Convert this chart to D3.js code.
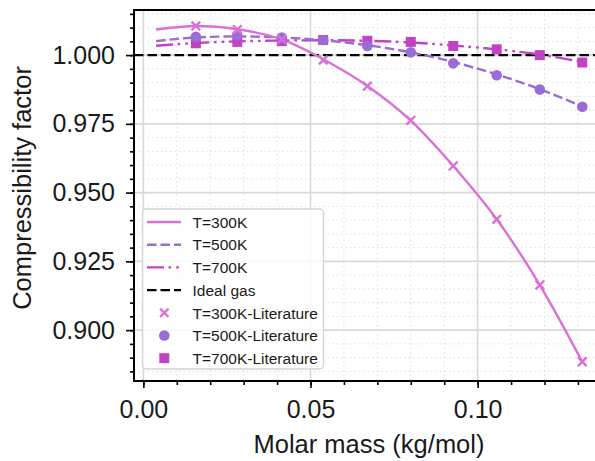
<!DOCTYPE html>
<html>
<head>
<meta charset="utf-8">
<script src="https://cdn.jsdelivr.net/npm/d3@7"></script>
<style>
  body { margin: 0; background: #fff; }
  svg { font-family: "Liberation Sans", Arial, sans-serif; }
</style>
</head>
<body>
<svg id="chart" width="595" height="461"></svg>
<script>
// molar masses of the literature points (kg/mol)
const molarMass = [0.0157, 0.0281, 0.0414, 0.0538, 0.0670, 0.0800, 0.0927, 0.1057, 0.1186, 0.1313];

// fitted curves (start point + values at the molar masses above)
const fitX = [0.0038, 0.0157, 0.0281, 0.0414, 0.0538, 0.0670, 0.0800, 0.0927, 0.1057, 0.1186, 0.1313];
const fit300 = [1.0093, 1.0106, 1.0094, 1.0057, 0.9985, 0.9888, 0.9762, 0.9597, 0.9403, 0.9164, 0.8885];
const fit500 = [1.0051, 1.0064, 1.0068, 1.0064, 1.0054, 1.0036, 1.0010, 0.9975, 0.9930, 0.9876, 0.9813];
const fit700 = [1.0034, 1.0044, 1.0050, 1.0053, 1.0054, 1.0052, 1.0046, 1.0035, 1.0021, 1.0002, 0.9975];

// literature values
const lit300 = [1.0106, 1.0093, 1.0057, 0.9982, 0.9887, 0.9763, 0.9597, 0.9403, 0.9164, 0.8885];
const lit500 = [1.0067, 1.0073, 1.0064, 1.0055, 1.0033, 1.0010, 0.9970, 0.9927, 0.9875, 0.9812];
const lit700 = [1.0043, 1.0048, 1.0051, 1.0055, 1.0052, 1.0048, 1.0033, 1.0021, 1.0000, 0.9973];

const xTicks = [0.00, 0.05, 0.10];
const yTicks = [0.900, 0.925, 0.950, 0.975, 1.000];
const idealZ = 1.0;

const c300 = "#da70d6", c500 = "#9a6cd6", c700 = "#c043c4";
const dash500 = "9.5,4", dash700 = "17,4.5,2.7,5,2.7,4.5", dashIdeal = "9.5,4";
const lw = 2.4;

const svg = d3.select("#chart");
const pLeft = 134, pRight = 597, pTop = 10, pBottom = 381;

const x = d3.scaleLinear().domain([-0.0028, 0.1357]).range([pLeft, pRight]);
const y = d3.scaleLinear().domain([0.8815, 1.0164]).range([pBottom, pTop]);

const xMinorTicks = d3.range(0, 14).map(i => i / 100);
const yMinorTicks = d3.range(0, 27).map(i => 0.885 + i * 0.005);

// grid
const grid = svg.append("g");
grid.selectAll(".xmin").data(xMinorTicks).enter().append("line")
  .attr("x1", d => x(d)).attr("x2", d => x(d)).attr("y1", pTop).attr("y2", pBottom)
  .attr("stroke", "#dedede").attr("stroke-width", 1).attr("stroke-dasharray", "1.5,3");
grid.selectAll(".ymin").data(yMinorTicks).enter().append("line")
  .attr("y1", d => y(d)).attr("y2", d => y(d)).attr("x1", pLeft).attr("x2", pRight)
  .attr("stroke", "#dedede").attr("stroke-width", 1).attr("stroke-dasharray", "1.5,3");
grid.selectAll(".xmaj").data(xTicks).enter().append("line")
  .attr("x1", d => x(d)).attr("x2", d => x(d)).attr("y1", pTop).attr("y2", pBottom)
  .attr("stroke", "#d9d9d9").attr("stroke-width", 1.6);
grid.selectAll(".ymaj").data(yTicks).enter().append("line")
  .attr("y1", d => y(d)).attr("y2", d => y(d)).attr("x1", pLeft).attr("x2", pRight)
  .attr("stroke", "#d9d9d9").attr("stroke-width", 1.6);

// axes
const xAxis = svg.append("g").attr("transform", `translate(0,${pBottom})`)
  .call(d3.axisBottom(x).tickValues(xTicks).tickFormat(d3.format(".2f")).tickSize(7).tickPadding(12.5));
const xMinor = svg.append("g").attr("transform", `translate(0,${pBottom})`)
  .call(d3.axisBottom(x).tickValues(xMinorTicks).tickFormat("").tickSize(4));
const yAxis = svg.append("g").attr("transform", `translate(${pLeft},0)`)
  .call(d3.axisLeft(y).tickValues(yTicks).tickFormat(d3.format(".3f")).tickSize(8).tickPadding(11));
const yMinor = svg.append("g").attr("transform", `translate(${pLeft},0)`)
  .call(d3.axisLeft(y).tickValues(yMinorTicks).tickFormat("").tickSize(4));
[xAxis, xMinor, yAxis, yMinor].forEach(g => {
  g.select(".domain").remove();
  g.selectAll("line").attr("stroke", "#000").attr("stroke-width", 1.6);
  g.selectAll("text").attr("font-size", 25).attr("fill", "#1a1a1a").attr("font-family", "Liberation Sans, Arial, sans-serif");
});

// ideal gas
svg.append("line").attr("x1", pLeft).attr("x2", pRight).attr("y1", y(idealZ)).attr("y2", y(idealZ))
  .attr("stroke", "#000").attr("stroke-width", lw).attr("stroke-dasharray", dashIdeal);

// fitted curves
const line = vals => d3.line().x((d, i) => x(fitX[i])).y(d => y(d)).curve(d3.curveMonotoneX)(vals);
svg.append("path").attr("d", line(fit700)).attr("fill", "none").attr("stroke", c700)
  .attr("stroke-width", lw).attr("stroke-dasharray", dash700);
svg.append("path").attr("d", line(fit500)).attr("fill", "none").attr("stroke", c500)
  .attr("stroke-width", lw).attr("stroke-dasharray", dash500);
svg.append("path").attr("d", line(fit300)).attr("fill", "none").attr("stroke", c300)
  .attr("stroke-width", lw);

// literature markers
const cross = (g, cx, cy, s, col) => {
  g.append("path").attr("d", `M${cx - s},${cy - s}L${cx + s},${cy + s}M${cx - s},${cy + s}L${cx + s},${cy - s}`)
    .attr("stroke", col).attr("stroke-width", 2.4).attr("fill", "none");
};
const marks = svg.append("g");
marks.selectAll(".sq").data(lit700).enter().append("rect")
  .attr("x", (d, i) => x(molarMass[i]) - 5).attr("y", d => y(d) - 5)
  .attr("width", 10).attr("height", 10).attr("fill", c700);
marks.selectAll(".ci").data(lit500).enter().append("circle")
  .attr("cx", (d, i) => x(molarMass[i])).attr("cy", d => y(d)).attr("r", 5.3).attr("fill", c500);
lit300.forEach((d, i) => cross(marks, x(molarMass[i]), y(d), 4.3, c300));

// frame
svg.append("rect").attr("x", pLeft).attr("y", pTop).attr("width", pRight - pLeft).attr("height", pBottom - pTop)
  .attr("fill", "none").attr("stroke", "#000").attr("stroke-width", 2);

// labels
svg.append("text").attr("x", 369).attr("y", 453)
  .attr("text-anchor", "middle").attr("font-size", 25.5).attr("fill", "#1a1a1a").text("Molar mass (kg/mol)");
svg.append("text").attr("transform", "translate(31,188) rotate(-90)")
  .attr("text-anchor", "middle").attr("font-size", 25.5).attr("fill", "#1a1a1a").text("Compressibility factor");

// legend
const legendItems = [
  { label: "T=300K", type: "line", color: c300, dash: null },
  { label: "T=500K", type: "line", color: c500, dash: dash500 },
  { label: "T=700K", type: "line", color: c700, dash: dash700 },
  { label: "Ideal gas", type: "line", color: "#000", dash: dashIdeal },
  { label: "T=300K-Literature", type: "x", color: c300 },
  { label: "T=500K-Literature", type: "o", color: c500 },
  { label: "T=700K-Literature", type: "s", color: c700 },
];
const lg = svg.append("g");
lg.append("rect").attr("x", 142.5).attr("y", 209).attr("width", 181).attr("height", 160)
  .attr("rx", 4).attr("fill", "#fff").attr("fill-opacity", 0.8).attr("stroke", "#d4d4d4").attr("stroke-width", 1.4);
legendItems.forEach((it, i) => {
  const cy = 222 + i * 22.7;
  if (it.type === "line") {
    lg.append("line").attr("x1", 147).attr("x2", 181).attr("y1", cy).attr("y2", cy)
      .attr("stroke", it.color).attr("stroke-width", lw).attr("stroke-dasharray", it.dash);
  } else if (it.type === "x") {
    cross(lg, 164.3, cy, 4.2, it.color);
  } else if (it.type === "o") {
    lg.append("circle").attr("cx", 164.3).attr("cy", cy).attr("r", 5.3).attr("fill", it.color);
  } else {
    lg.append("rect").attr("x", 159.3).attr("y", cy - 5).attr("width", 10).attr("height", 10).attr("fill", it.color);
  }
  lg.append("text").attr("x", 192.5).attr("y", cy + 5.7).attr("font-size", 15.5).attr("fill", "#1a1a1a").text(it.label);
});
</script>
</body>
</html>
